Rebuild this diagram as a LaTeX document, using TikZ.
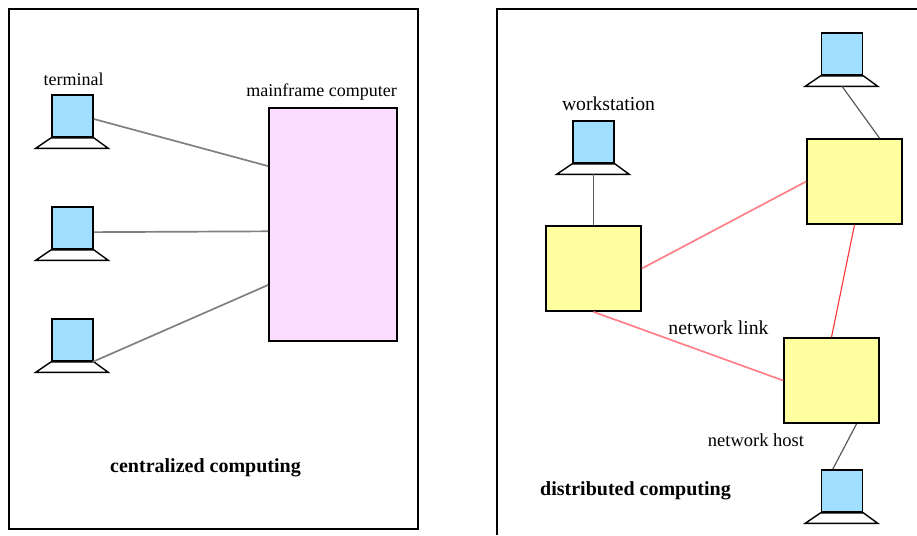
\documentclass[tikz,border=0pt]{standalone}
\usepackage{fontspec}
\setmainfont{Liberation Serif}
\definecolor{screenblue}{HTML}{A0DFFF}
\definecolor{hostyellow}{HTML}{FFFFA0}
\definecolor{framepink}{HTML}{FCDDFF}
\definecolor{linkred}{HTML}{FF8088}
\tikzset{
    panel/.style={line width=1.8pt, black},
    screen/.style={draw, line width=1.6pt, fill=screenblue, inner sep=0pt, minimum width=41pt, minimum height=42pt},
    host/.style={draw, line width=1.7pt, fill=hostyellow, inner sep=0pt, minimum width=95pt, minimum height=85pt},
    wire/.style={gray, line width=1.7pt},
    drop/.style={black!65, line width=1.2pt},
    link/.style={linkred, line width=1.7pt},
    caption/.style={inner sep=0pt, font=\fontsize{18}{20}\selectfont},
    title/.style={inner sep=0pt, font=\fontsize{20}{22}\selectfont\bfseries}
}

\begin{document}
\begin{tikzpicture}[x=1pt,y=-1pt]
    \useasboundingbox (0,0) rectangle (917,535);
    \draw [panel] (9,9) rectangle (418,529);% Left panel
    \draw [panel] (497,535) -- (497,9) -- (917,9);% Right panel runs off the page
    \foreach \name/\x/\y in {termA/72.5/116,termB/72.5/228,termC/72.5/340,termW/593.5/142,termR/842/54,termB2/842/491}{% Screen and its base
        \node [screen] (\name) at (\x,\y) {};
        \coordinate (\name base) at ([yshift=-10.5pt]\name.south);
        \draw [line width=1.4pt, fill=white] (\name.south west) -- ++(-15.5,10.5) -- ++(72.5,0) -- (\name.south east) -- cycle;
    }
    \node [draw, line width=1.7pt, fill=framepink, inner sep=0pt, minimum width=128pt, minimum height=233pt] (mainframe) at (333,224.5) {};
    \node [host] (hostL) at (593.5,268.5) {};
    \node [host] (hostR) at (854.5,181.5) {};
    \node [host] (hostB) at (831.5,380.5) {};

    \draw [wire] (termA.-8) -- (mainframe.138);
    \draw [wire] (termB.-11.5) -- (mainframe.186.7);
    \draw [wire] (termC.-47) -- (mainframe.223.4);

    \draw [drop] (termWbase) -- (hostL.north);
    \draw [drop] (termRbase) -- (hostR.60);
    \draw [drop] (termB2.113) -- (hostB.-60);

    \draw [link] (hostL.east) -- (hostR.west);
    \draw [link] (hostL.south) -- (hostB.west);
    \draw [link, line width=1.1pt, red!80] (hostR.south) -- (hostB.north);

    \node [caption] (termlabel) at (73.5,79) {terminal};
    \node [caption] (framelabel) at (321.5,92) {mainframe computer};
    \node [caption, font=\fontsize{19.7}{22}\selectfont] (worklabel) at (608.5,104) {workstation};
    \node [caption, font=\fontsize{19.7}{22}\selectfont] (linklabel) at (718.5,328) {network link};
    \node [caption, font=\fontsize{18.5}{20}\selectfont] (hostlabel) at (756,440) {network host};
    \node [title] (centraltitle) at (205.5,468) {centralized computing};
    \node [title] (distribtitle) at (635.5,491) {distributed computing};
\end{tikzpicture}
\end{document}
